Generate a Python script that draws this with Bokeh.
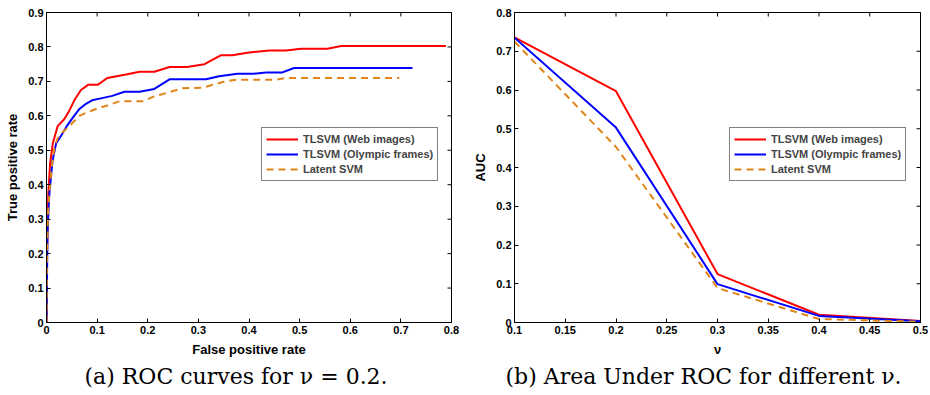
import math
from bokeh.plotting import figure
from bokeh.layouts import row
from bokeh.models import Range1d, FixedTicker, CustomJSTickFormatter, Title, Legend, LegendItem
from bokeh.embed import file_html
from bokeh.resources import INLINE

# ---- data: ROC curves (nu = 0.2) ----
red_fpr = [0, 0.001, 0.0035, 0.007, 0.0125, 0.022, 0.035, 0.045, 0.055, 0.068, 0.082, 0.101, 0.12, 0.157,
           0.184, 0.213, 0.243, 0.278, 0.312, 0.345, 0.367, 0.397, 0.44, 0.473, 0.503, 0.555, 0.582, 0.789]
red_tpr = [0, 0.2, 0.37, 0.46, 0.52, 0.57, 0.59, 0.615, 0.645, 0.675, 0.69, 0.69, 0.71, 0.72,
           0.728, 0.728, 0.742, 0.742, 0.75, 0.776, 0.776, 0.783, 0.79, 0.79, 0.795, 0.795, 0.803, 0.803]

blue_fpr = [0, 0.002, 0.005, 0.008, 0.012, 0.019, 0.03, 0.04, 0.052, 0.065, 0.078, 0.09, 0.105, 0.13,
            0.154, 0.184, 0.213, 0.243, 0.315, 0.341, 0.377, 0.407, 0.434, 0.466, 0.489, 0.723]
blue_tpr = [0, 0.26, 0.36, 0.41, 0.47, 0.52, 0.545, 0.57, 0.595, 0.62, 0.635, 0.645, 0.65, 0.658,
            0.67, 0.67, 0.678, 0.706, 0.706, 0.715, 0.722, 0.722, 0.726, 0.726, 0.739, 0.739]

orange_fpr = [0, 0.001, 0.003, 0.007, 0.011, 0.016, 0.022, 0.032, 0.045, 0.065, 0.08, 0.098, 0.124,
              0.144, 0.19, 0.21, 0.269, 0.309, 0.348, 0.374, 0.454, 0.473, 0.697]
orange_tpr = [0, 0.2, 0.32, 0.40, 0.46, 0.51, 0.535, 0.553, 0.57, 0.6, 0.61, 0.62, 0.632,
              0.642, 0.642, 0.655, 0.68, 0.682, 0.698, 0.705, 0.705, 0.71, 0.71]

# ---- data: AUC vs nu ----
nu = [0.1, 0.2, 0.3, 0.4, 0.5]
red_auc = [0.736, 0.597, 0.125, 0.020, 0.004]
blue_auc = [0.735, 0.503, 0.099, 0.017, 0.003]
orange_auc = [0.725, 0.453, 0.089, 0.009, 0.002]

series_names = ["TLSVM (Web images)", "TLSVM (Olympic frames)", "Latent SVM"]
roc_xticks = [0, 0.1, 0.2, 0.3, 0.4, 0.5, 0.6, 0.7, 0.8]
roc_yticks = [0, 0.1, 0.2, 0.3, 0.4, 0.5, 0.6, 0.7, 0.8, 0.9]
auc_xticks = [0.1, 0.15, 0.2, 0.25, 0.3, 0.35, 0.4, 0.45, 0.5]
auc_yticks = [0, 0.1, 0.2, 0.3, 0.4, 0.5, 0.6, 0.7, 0.8]

RED = "#ff0000"
BLUE = "#0000ff"
ORANGE = "#e0851a"
FONT = "Liberation Sans"
fmt = CustomJSTickFormatter(code="return String(parseFloat(tick.toFixed(2)));")


def style_axis(ax, ticks):
    ax.ticker = FixedTicker(ticks=ticks)
    ax.formatter = fmt
    ax.major_tick_in = 4
    ax.major_tick_out = 0
    ax.minor_tick_line_color = None
    ax.axis_line_color = "black"
    ax.major_tick_line_color = "black"
    ax.major_label_text_font = FONT
    ax.major_label_text_font_style = "bold"
    ax.major_label_text_font_size = "11px"
    ax.major_label_text_color = "black"
    ax.major_label_standoff = 3
    ax.axis_label_text_font = FONT
    ax.axis_label_text_font_style = "bold"
    ax.axis_label_text_font_size = "13px"
    ax.axis_label_text_color = "black"
    ax.axis_label_standoff = 5


def make_fig(xr, yr, xticks, yticks, xlabel, ylabel, caption, cap_offset, border_left, border_right, fw):
    p = figure(frame_width=fw, frame_height=310, x_range=Range1d(*xr), y_range=Range1d(*yr),
               output_backend="svg", toolbar_location=None,
               min_border_left=border_left, min_border_right=border_right,
               min_border_top=12, min_border_bottom=0)
    p.grid.visible = False
    p.outline_line_color = "black"
    p.outline_line_width = 1
    p.outline_line_alpha = 1
    style_axis(p.xaxis[0], xticks)
    style_axis(p.yaxis[0], yticks)
    p.xaxis[0].axis_label = xlabel
    p.yaxis[0].axis_label = ylabel
    # inward ticks on the top and right edges of the box (halves outside the frame are clipped)
    p.scatter(xticks, [yr[1]] * len(xticks), marker="dash", size=8, angle=math.pi / 2,
              line_color="black", line_width=1)
    p.scatter([xr[1]] * len(yticks), yticks, marker="dash", size=8,
              line_color="black", line_width=1)
    t = Title(text=caption, align="left", offset=cap_offset, text_font="DejaVu Serif",
              text_font_size="22px", text_font_style="normal", text_color="black", standoff=5)
    p.add_layout(t, "below")
    return p


def add_legend(p, renderers):
    items = [LegendItem(label=n, renderers=[r]) for n, r in zip(series_names, renderers)]
    leg = Legend(items=items, location=(215, 141), label_text_font=FONT, label_text_font_style="bold",
                 label_text_font_size="11px", label_height=14, glyph_height=14, glyph_width=32,
                 spacing=1, padding=4, margin=0, label_standoff=5,
                 border_line_color="black", border_line_width=1.5, background_fill_alpha=1)
    p.add_layout(leg, "center")


p1 = make_fig((0, 0.8), (0, 0.9), roc_xticks, roc_yticks, "False positive rate", "True positive rate",
              "(a) ROC curves for \u03bd = 0.2.", 38, 46, 18, 405)
r1 = p1.line(red_fpr, red_tpr, line_color=RED, line_width=2)
r2 = p1.line(blue_fpr, blue_tpr, line_color=BLUE, line_width=2)
r3 = p1.line(orange_fpr, orange_tpr, line_color=ORANGE, line_width=2, line_dash="7 5")
add_legend(p1, [r1, r2, r3])

p2 = make_fig((0.1, 0.5), (0, 0.8), auc_xticks, auc_yticks, "\u03bd", "AUC",
              "(b) Area Under ROC for different \u03bd.", -9, 45, 8, 406)
s1 = p2.line(nu, red_auc, line_color=RED, line_width=2)
s2 = p2.line(nu, blue_auc, line_color=BLUE, line_width=2)
s3 = p2.line(nu, orange_auc, line_color=ORANGE, line_width=2, line_dash="7 5")
add_legend(p2, [s1, s2, s3])

layout = row(p1, p2)
open("out.html", "w").write(file_html(layout, INLINE))
